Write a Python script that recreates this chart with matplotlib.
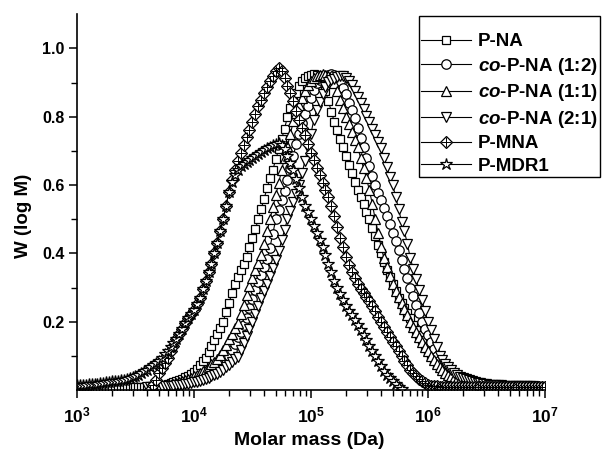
# GPC molar mass distributions, W(log M) vs M
import numpy as np
import matplotlib
matplotlib.use("Agg")
import matplotlib.pyplot as plt
from matplotlib.lines import Line2D
from matplotlib.legend_handler import HandlerTuple

plt.rcParams["font.family"] = ["Liberation Sans", "DejaVu Sans"]
plt.rcParams["font.weight"] = "bold"
plt.rcParams["mathtext.fontset"] = "custom"
plt.rcParams["mathtext.rm"] = "Liberation Sans"
plt.rcParams["mathtext.bf"] = "Liberation Sans:bold"
plt.rcParams["mathtext.it"] = "Liberation Sans:italic"
plt.rcParams["mathtext.bfit"] = "Liberation Sans:italic:bold"

# === data: W(log M), one value every 0.025 in log10(M) ===
STEP = 0.025

pna_start = 3.0
pna_w = [
    0.008, 0.008, 0.008, 0.008, 0.008, 0.008, 0.008, 0.008,  # 3.0
    0.008, 0.008, 0.008, 0.009, 0.009, 0.009, 0.009, 0.009,  # 3.2
    0.009, 0.009, 0.009, 0.009, 0.010, 0.010, 0.010, 0.010,  # 3.4
    0.010, 0.011, 0.011, 0.012, 0.013, 0.014, 0.016, 0.018,  # 3.6
    0.020, 0.023, 0.026, 0.029, 0.032, 0.037, 0.042, 0.047,  # 3.8
    0.052, 0.062, 0.073, 0.084, 0.095, 0.112, 0.130, 0.147,  # 4.0
    0.165, 0.182, 0.200, 0.228, 0.255, 0.283, 0.310, 0.330,  # 4.2
    0.350, 0.370, 0.390, 0.420, 0.445, 0.470, 0.500, 0.530,  # 4.4
    0.560, 0.590, 0.620, 0.645, 0.675, 0.705, 0.735, 0.765,  # 4.6
    0.800, 0.825, 0.850, 0.870, 0.890, 0.903, 0.912, 0.918,  # 4.8
    0.922, 0.925, 0.923, 0.915, 0.900, 0.875, 0.845, 0.815,  # 5.0
    0.785, 0.760, 0.735, 0.710, 0.685, 0.660, 0.635, 0.610,  # 5.2
    0.585, 0.565, 0.545, 0.520, 0.500, 0.475, 0.450, 0.425,  # 5.4
    0.400, 0.375, 0.350, 0.330, 0.310, 0.290, 0.270, 0.255,  # 5.6
    0.240, 0.225, 0.210, 0.190, 0.175, 0.160, 0.145, 0.130,  # 5.8
    0.115, 0.100, 0.088, 0.077, 0.067, 0.058, 0.050, 0.045,  # 6.0
    0.040, 0.035, 0.031, 0.027, 0.024, 0.022, 0.020, 0.018,  # 6.2
    0.017, 0.016, 0.015, 0.014, 0.014, 0.013, 0.013, 0.013,  # 6.4
    0.012, 0.012, 0.012, 0.012, 0.011, 0.011, 0.011, 0.011,  # 6.6
    0.011, 0.010, 0.010, 0.010, 0.010, 0.010, 0.010, 0.010,  # 6.8
    0.010,                                                   # 7.0
]

co12_start = 3.65
co12_w = [
    0.002, 0.004, 0.006, 0.007, 0.009, 0.010,                # 3.65
    0.012, 0.014, 0.016, 0.018, 0.020, 0.022, 0.025, 0.027,  # 3.8
    0.030, 0.034, 0.037, 0.041, 0.045, 0.050, 0.055, 0.060,  # 4.0
    0.065, 0.074, 0.082, 0.091, 0.100, 0.118, 0.136, 0.154,  # 4.2
    0.171, 0.189, 0.211, 0.239, 0.267, 0.294, 0.315, 0.338,  # 4.4
    0.360, 0.383, 0.417, 0.458, 0.500, 0.528, 0.556, 0.583,  # 4.6
    0.614, 0.650, 0.686, 0.721, 0.750, 0.781, 0.809, 0.832,  # 4.8
    0.855, 0.877, 0.900, 0.907, 0.913, 0.918, 0.923, 0.925,  # 5.0
    0.922, 0.915, 0.905, 0.885, 0.865, 0.840, 0.820, 0.795,  # 5.2
    0.767, 0.739, 0.711, 0.680, 0.655, 0.627, 0.600, 0.577,  # 5.4
    0.555, 0.532, 0.510, 0.485, 0.460, 0.435, 0.410, 0.380,  # 5.6
    0.355, 0.327, 0.300, 0.275, 0.250, 0.225, 0.200, 0.180,  # 5.8
    0.160, 0.140, 0.120, 0.100, 0.088, 0.076, 0.066, 0.057,  # 6.0
    0.050, 0.043, 0.038, 0.034, 0.030, 0.027, 0.024, 0.022,  # 6.2
    0.020, 0.019, 0.018, 0.017, 0.016, 0.015, 0.014, 0.014,  # 6.4
    0.013, 0.013, 0.013, 0.012, 0.012, 0.012, 0.012, 0.011,  # 6.6
    0.011, 0.011, 0.011, 0.011, 0.010, 0.010, 0.010, 0.010,  # 6.8
    0.010,                                                   # 7.0
]

co11_start = 3.65
co11_w = [
    0.003, 0.005, 0.008, 0.010, 0.012, 0.014,                # 3.65
    0.016, 0.018, 0.021, 0.023, 0.026, 0.029, 0.033, 0.036,  # 3.8
    0.040, 0.045, 0.050, 0.055, 0.060, 0.067, 0.075, 0.082,  # 4.0
    0.090, 0.102, 0.118, 0.133, 0.150, 0.165, 0.181, 0.197,  # 4.2
    0.222, 0.250, 0.278, 0.303, 0.328, 0.350, 0.373, 0.395,  # 4.4
    0.428, 0.464, 0.500, 0.535, 0.570, 0.607, 0.643, 0.680,  # 4.6
    0.714, 0.750, 0.786, 0.812, 0.833, 0.854, 0.875, 0.893,  # 4.8
    0.905, 0.912, 0.918, 0.922, 0.925, 0.923, 0.918, 0.910,  # 5.0
    0.900, 0.875, 0.850, 0.825, 0.800, 0.778, 0.755, 0.733,  # 5.2
    0.710, 0.680, 0.650, 0.620, 0.585, 0.545, 0.500, 0.460,  # 5.4
    0.420, 0.385, 0.360, 0.335, 0.310, 0.290, 0.272, 0.255,  # 5.6
    0.237, 0.220, 0.200, 0.185, 0.170, 0.155, 0.140, 0.127,  # 5.8
    0.113, 0.100, 0.088, 0.077, 0.067, 0.058, 0.050, 0.045,  # 6.0
    0.040, 0.036, 0.032, 0.029, 0.026, 0.024, 0.022, 0.020,  # 6.2
    0.019, 0.018, 0.017, 0.016, 0.015, 0.014, 0.014, 0.013,  # 6.4
    0.013, 0.013, 0.012, 0.012, 0.012, 0.012, 0.011, 0.011,  # 6.6
    0.011, 0.011, 0.011, 0.010, 0.010, 0.010, 0.010, 0.010,  # 6.8
    0.010,                                                   # 7.0
]

co21_start = 3.6
co21_w = [
    0.008, 0.008, 0.009, 0.009, 0.010, 0.010, 0.011, 0.011,  # 3.6
    0.012, 0.013, 0.014, 0.015, 0.016, 0.017, 0.019, 0.020,  # 3.8
    0.022, 0.024, 0.027, 0.029, 0.032, 0.036, 0.040, 0.044,  # 4.0
    0.048, 0.054, 0.060, 0.066, 0.072, 0.081, 0.090, 0.098,  # 4.2
    0.117, 0.138, 0.158, 0.179, 0.200, 0.223, 0.245, 0.268,  # 4.4
    0.291, 0.311, 0.334, 0.357, 0.380, 0.406, 0.438, 0.469,  # 4.6
    0.500, 0.525, 0.550, 0.575, 0.600, 0.636, 0.671, 0.707,  # 4.8
    0.750, 0.790, 0.820, 0.843, 0.865, 0.888, 0.902, 0.907,  # 5.0
    0.911, 0.915, 0.919, 0.920, 0.913, 0.905, 0.893, 0.875,  # 5.2
    0.857, 0.839, 0.821, 0.803, 0.785, 0.765, 0.745, 0.726,  # 5.4
    0.708, 0.680, 0.652, 0.624, 0.600, 0.565, 0.530, 0.493,  # 5.6
    0.464, 0.428, 0.386, 0.355, 0.325, 0.294, 0.263, 0.231,  # 5.8
    0.200, 0.175, 0.150, 0.125, 0.100, 0.088, 0.077, 0.066,  # 6.0
    0.058, 0.050, 0.044, 0.039, 0.035, 0.031, 0.028, 0.025,  # 6.2
    0.023, 0.021, 0.020, 0.018, 0.017, 0.016, 0.015, 0.015,  # 6.4
    0.014, 0.014, 0.013, 0.013, 0.013, 0.012, 0.012, 0.012,  # 6.6
    0.012, 0.011, 0.011, 0.011, 0.011, 0.010, 0.010, 0.010,  # 6.8
    0.010,                                                   # 7.0
]

mna_start = 3.625
mna_w = [
    0.000, 0.015, 0.030, 0.050, 0.065, 0.080, 0.095,         # 3.625
    0.115, 0.130, 0.150, 0.165, 0.180, 0.195, 0.210, 0.222,  # 3.8
    0.235, 0.252, 0.270, 0.295, 0.320, 0.345, 0.370, 0.400,  # 4.0
    0.430, 0.465, 0.500, 0.540, 0.580, 0.615, 0.645, 0.670,  # 4.2
    0.695, 0.718, 0.740, 0.762, 0.785, 0.808, 0.830, 0.850,  # 4.4
    0.870, 0.888, 0.905, 0.920, 0.935, 0.942, 0.935, 0.913,  # 4.6
    0.890, 0.868, 0.845, 0.818, 0.790, 0.768, 0.745, 0.720,  # 4.8
    0.695, 0.672, 0.650, 0.628, 0.605, 0.585, 0.565, 0.538,  # 5.0
    0.510, 0.478, 0.445, 0.418, 0.390, 0.365, 0.345, 0.327,  # 5.2
    0.310, 0.297, 0.285, 0.272, 0.260, 0.245, 0.230, 0.215,  # 5.4
    0.200, 0.185, 0.170, 0.155, 0.140, 0.128, 0.115, 0.100,  # 5.6
    0.085, 0.072, 0.060, 0.050, 0.040, 0.032, 0.025, 0.020,  # 5.8
    0.015, 0.013, 0.012, 0.011, 0.010, 0.010, 0.010, 0.010,  # 6.0
    0.010, 0.010, 0.010, 0.010, 0.010, 0.010, 0.010, 0.010,  # 6.2
    0.010, 0.010, 0.010, 0.010, 0.010, 0.010, 0.010, 0.010,  # 6.4
    0.010, 0.010, 0.010, 0.010, 0.010, 0.010, 0.010, 0.010,  # 6.6
    0.010, 0.010, 0.010, 0.010, 0.010, 0.010, 0.010, 0.010,  # 6.8
    0.010,                                                   # 7.0
]

mdr1_start = 3.0
mdr1_w = [
    0.015, 0.015, 0.016, 0.016, 0.017, 0.017, 0.018, 0.019,  # 3.0
    0.020, 0.021, 0.022, 0.024, 0.025, 0.026, 0.027, 0.029,  # 3.2
    0.030, 0.032, 0.035, 0.037, 0.040, 0.045, 0.050, 0.055,  # 3.4
    0.060, 0.066, 0.072, 0.078, 0.085, 0.095, 0.105, 0.115,  # 3.6
    0.125, 0.137, 0.150, 0.165, 0.180, 0.195, 0.210, 0.222,  # 3.8
    0.235, 0.252, 0.270, 0.295, 0.320, 0.345, 0.370, 0.400,  # 4.0
    0.430, 0.465, 0.500, 0.540, 0.580, 0.610, 0.630, 0.645,  # 4.2
    0.655, 0.662, 0.668, 0.674, 0.680, 0.686, 0.692, 0.698,  # 4.4
    0.703, 0.708, 0.712, 0.716, 0.720, 0.722, 0.718, 0.705,  # 4.6
    0.685, 0.665, 0.645, 0.618, 0.590, 0.565, 0.540, 0.520,  # 4.8
    0.500, 0.480, 0.460, 0.440, 0.420, 0.395, 0.370, 0.345,  # 5.0
    0.320, 0.300, 0.280, 0.262, 0.245, 0.232, 0.220, 0.205,  # 5.2
    0.190, 0.175, 0.160, 0.145, 0.130, 0.115, 0.100, 0.085,  # 5.4
    0.070, 0.057, 0.045, 0.035, 0.025, 0.017, 0.010, 0.003,  # 5.6
]

labels = ["P-NA", r"$\mathbfit{co}$-P-NA (1:2)", r"$\mathbfit{co}$-P-NA (1:1)",
          r"$\mathbfit{co}$-P-NA (2:1)", "P-MNA", "P-MDR1"]


def molar_mass(start, w):
    return 10 ** (start + STEP * np.arange(len(w)))


# === plot ===
fig = plt.figure(figsize=(6.06, 4.57), dpi=100)
ax = fig.add_axes([0.127, 0.1466, 0.772, 0.8224])

style = dict(color="black", lw=0.8, mfc="white", mec="black", mew=0.9)
MS = {"s": 6.4, "o": 6.8, "^": 7.4, "v": 7.4, "D": 5.8, "+": 6.6, "*": 8.6}

ax.plot(molar_mass(pna_start, pna_w), pna_w, marker="s", ms=MS["s"], **style)
ax.plot(molar_mass(co12_start, co12_w), co12_w, marker="o", ms=MS["o"], **style)
ax.plot(molar_mass(co11_start, co11_w), co11_w, marker="^", ms=MS["^"], **style)
ax.plot(molar_mass(co21_start, co21_w), co21_w, marker="v", ms=MS["v"], **style)
ax.plot(molar_mass(mna_start, mna_w), mna_w, marker="D", ms=MS["D"], **style)
ax.plot(molar_mass(mna_start, mna_w), mna_w, marker="+", ms=MS["+"], lw=0,
        color="black", mew=0.7)
ax.plot(molar_mass(mdr1_start, mdr1_w), mdr1_w, marker="*", ms=MS["*"], **style)

# === axes ===
ax.set_xscale("log")
ax.set_xlim(1e3, 1e7)
ax.set_ylim(0, 1.1)
ax.set_xticks([1e3, 1e4, 1e5, 1e6, 1e7])
ax.set_xticklabels([r"$\mathbf{10^{3}}$", r"$\mathbf{10^{4}}$", r"$\mathbf{10^{5}}$",
                    r"$\mathbf{10^{6}}$", r"$\mathbf{10^{7}}$"])
ax.set_yticks([0.2, 0.4, 0.6, 0.8, 1.0])
ax.set_yticklabels(["0.2", "0.4", "0.6", "0.8", "1.0"])
ax.set_yticks([0.1, 0.3, 0.5, 0.7, 0.9], minor=True)
ax.tick_params(which="major", direction="out", length=6, width=1.1, labelsize=11.5, pad=3)
ax.tick_params(axis="x", which="major", labelsize=12.5, pad=5)
ax.tick_params(which="minor", direction="out", length=4, width=1.0)
for s in ["top", "right"]:
    ax.spines[s].set_visible(False)
for s in ["left", "bottom"]:
    ax.spines[s].set_linewidth(1.2)

ax.set_xlabel("Molar mass (Da)", fontsize=14, fontweight="bold")
ax.set_ylabel("W (log M)", fontsize=13.5, fontweight="bold")
ax.xaxis.set_label_coords(0.496, -0.112)
ax.yaxis.set_label_coords(-0.096, 0.463)

# === legend ===
def handle(mk):
    return Line2D([], [], color="black", lw=0.8, marker=mk, ms=MS[mk],
                  mfc="white", mec="black", mew=0.9)

mna_handle = (handle("D"),
              Line2D([], [], color="black", lw=0, marker="+", ms=MS["+"], mew=0.7))
handles = [handle("s"), handle("o"), handle("^"), handle("v"), mna_handle, handle("*")]

leg = fig.legend(handles, labels, loc="upper left", bbox_to_anchor=(0.6914, 0.965),
                 handler_map={tuple: HandlerTuple(ndivide=1)},
                 title=" ", title_fontsize=7.5,
                 frameon=True, fancybox=False, edgecolor="black", framealpha=1,
                 fontsize=13.5, handlelength=2.7, handletextpad=0.35,
                 labelspacing=0.29, borderpad=0.1, borderaxespad=0, numpoints=1)
leg.get_frame().set_linewidth(1.0)

fig.savefig("out.png", dpi=100)
